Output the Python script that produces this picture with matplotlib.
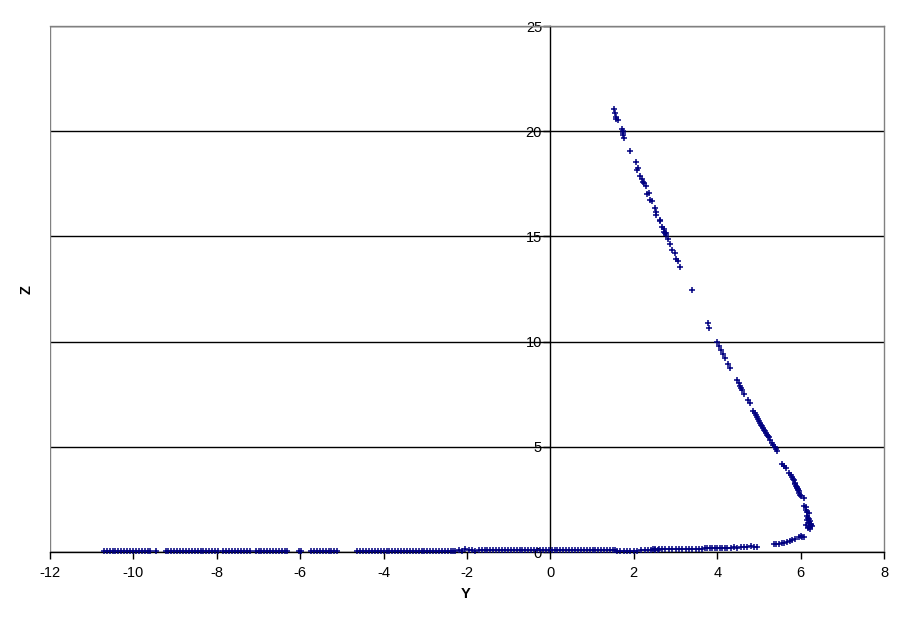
import matplotlib
matplotlib.use("Agg")
import matplotlib.pyplot as plt
from matplotlib.lines import Line2D

plt.rcParams['font.family'] = ['Liberation Sans', 'DejaVu Sans']
plt.rcParams['axes.unicode_minus'] = False

# ---- data ----
# upper branch (descending)
y_upper = [1.52, 1.54, 1.57, 1.58, 1.61, 1.71, 1.73, 1.73, 1.73, 1.76, 1.90, 2.05, 2.09, 2.08,
           2.14, 2.19, 2.21, 2.24, 2.29, 2.32, 2.36, 2.38, 2.43, 2.50, 2.53, 2.53, 2.62, 2.62,
           2.67, 2.72, 2.72, 2.74, 2.77, 2.77, 2.81, 2.88, 2.91, 2.98, 3.00, 3.05, 3.10, 3.39]
z_upper = [21.04, 20.85, 20.66, 20.60, 20.52, 20.09, 20.02, 19.90, 19.80, 19.66, 19.04, 18.52, 18.24, 18.14,
           17.86, 17.71, 17.57, 17.52, 17.38, 17.00, 17.05, 16.73, 16.68, 16.34, 16.15, 16.00, 15.77, 15.72,
           15.43, 15.34, 15.20, 15.15, 15.15, 15.05, 14.86, 14.62, 14.34, 14.20, 13.91, 13.82, 13.53, 12.44]

# middle branch
y_mid = [3.77, 3.80, 3.99, 4.04, 4.08, 4.13, 4.18, 4.25, 4.30, 4.47, 4.52, 4.54, 4.56, 4.59, 4.64,
         4.73, 4.78, 4.85, 4.90, 4.92, 4.95, 4.97, 5.00, 5.02, 5.04, 5.07, 5.09, 5.12, 5.14, 5.16,
         5.19, 5.21, 5.24, 5.26, 5.31, 5.35, 5.38, 5.40, 5.43]
z_mid = [10.87, 10.63, 9.97, 9.78, 9.59, 9.40, 9.21, 8.92, 8.73, 8.16, 8.02, 7.88, 7.78, 7.69, 7.50,
         7.21, 7.07, 6.69, 6.59, 6.50, 6.40, 6.31, 6.21, 6.12, 6.02, 5.97, 5.88, 5.78, 5.74, 5.64,
         5.55, 5.50, 5.45, 5.31, 5.17, 5.07, 4.98, 4.88, 4.79]

# lower bend
y_bend = [5.56, 5.60, 5.65, 5.72, 5.76, 5.79, 5.82, 5.85, 5.87, 5.92, 5.93, 5.95, 5.97, 5.99, 6.01,
          6.07, 5.86, 5.89, 5.91, 5.94, 6.09, 6.12, 6.16, 6.19, 6.16, 6.20, 6.23, 6.19, 6.24, 6.20,
          6.27, 6.22, 6.14, 6.17, 6.21, 6.13, 6.18, 6.25, 6.15, 6.22,
          6.00, 6.04, 6.09, 5.95, 5.87, 5.80, 5.74, 5.68, 5.61, 5.55, 5.48, 5.42, 5.36]
z_bend = [4.17, 4.09, 3.98, 3.74, 3.66, 3.56, 3.48, 3.41, 3.22, 3.08, 2.98, 2.90, 2.82, 2.72, 2.66,
          2.57, 3.30, 3.15, 3.02, 2.94, 2.19, 2.12, 1.92, 1.84, 1.71, 1.55, 1.47, 1.36, 1.27, 1.17,
          1.24, 1.08, 1.98, 1.62, 1.40, 1.30, 1.12, 1.33, 1.50, 1.20,
          0.78, 0.73, 0.71, 0.73, 0.60, 0.57, 0.54, 0.48, 0.44, 0.41, 0.38, 0.37, 0.37]

# bottom band (near Z = 0)
y_band = [-10.71, -10.64, -10.57, -10.50, -10.43, -10.36, -10.29, -10.22, -10.15, -10.08, -10.01,
          -9.94, -9.87, -9.80, -9.73, -9.66, -9.59, -9.47,
          -9.23, -9.16, -9.09, -9.02, -8.95, -8.88, -8.81, -8.74, -8.67, -8.60, -8.53, -8.46,
          -8.39, -8.32, -8.25, -8.18, -8.11, -8.04, -7.98,
          -7.84, -7.77, -7.70, -7.63, -7.56, -7.49, -7.42, -7.35, -7.28, -7.21,
          -7.07, -7.00, -6.93, -6.86, -6.79, -6.72, -6.65, -6.58, -6.51, -6.44, -6.37, -6.31,
          -6.04, -5.97,
          -5.74, -5.67, -5.60, -5.53, -5.46, -5.39, -5.32, -5.25, -5.18, -5.11,
          -4.63, -4.56, -4.49, -4.42, -4.35, -4.28, -4.21, -4.14, -4.07, -4.00, -3.93, -3.86,
          -3.79, -3.72, -3.65, -3.58, -3.51, -3.44, -3.37, -3.30, -3.23, -3.16, -3.09, -3.02,
          -2.95, -2.88, -2.81, -2.74, -2.67, -2.60, -2.53, -2.46, -2.39, -2.33,
          -2.28, -2.20, -2.12, -2.04, -1.95, -1.88, -1.80, -1.72, -1.64, -1.57,
          -1.51, -1.44, -1.37, -1.30, -1.23, -1.16, -1.09, -1.02, -0.95, -0.88, -0.81, -0.74,
          -0.67, -0.60, -0.53, -0.46, -0.39, -0.32, -0.25, -0.18, -0.11, -0.04, 0.03, 0.10,
          0.17, 0.24, 0.31, 0.38, 0.45, 0.52, 0.59, 0.66, 0.73, 0.80, 0.87, 0.94, 1.01, 1.08,
          1.15, 1.22, 1.29, 1.36, 1.43, 1.50, 1.56,
          1.60, 1.68, 1.76, 1.84, 1.92, 2.00, 2.08,
          2.18, 2.26, 2.34, 2.42, 2.50, 2.58,
          2.45, 2.52, 2.60, 2.68, 2.76, 2.84, 2.92, 3.00, 3.08, 3.16, 3.24, 3.32, 3.40, 3.48,
          3.56, 3.64,
          3.70, 3.76, 3.82, 3.88, 3.94, 4.00, 4.06, 4.12, 4.18, 4.24,
          4.32, 4.40, 4.48, 4.56, 4.64, 4.72, 4.80, 4.88, 4.95]
z_band = [0.05] * 18 + [0.05] * 19 + [0.05] * 10 + [0.05] * 12 + [0.05] * 2 + [0.06] * 10 + \
         [0.06] * 34 + \
         [0.07, 0.10, 0.06, 0.12, 0.08, 0.11, 0.07, 0.10, 0.09, 0.08] + \
         [0.08] * 45 + \
         [0.07] * 7 + [0.10] * 6 + [0.13] * 16 + [0.17] * 10 + \
         [0.21, 0.22, 0.20, 0.22, 0.23, 0.25, 0.30, 0.23, 0.22]

y_all = y_upper + y_mid + y_bend + y_band
z_all = z_upper + z_mid + z_bend + z_band

x_ticks = [-12, -10, -8, -6, -4, -2, 0, 2, 4, 6, 8]
z_ticks = [0, 5, 10, 15, 20, 25]

# ---- figure ----
fig = plt.figure(figsize=(9.11, 6.23), dpi=100)
ax = fig.add_axes([50 / 911, 1 - 552 / 623, 834 / 911, 526 / 623])

ax.plot(y_all, z_all, linestyle='none', marker='+', color='#000080',
        markersize=4, markeredgewidth=1.1, clip_on=False, zorder=3)

ax.set_xlim(-12, 8)
ax.set_ylim(0, 25)
ax.set_xticks(x_ticks)
ax.set_yticks(z_ticks)

ax.spines['left'].set_position(('data', 0))
ax.spines['left'].set_color('black')
ax.spines['bottom'].set_color('black')
ax.spines['top'].set_color('#808080')
ax.spines['right'].set_color('#808080')
for s in ax.spines.values():
    s.set_linewidth(1.0)
ax.add_line(Line2D([0, 0], [0, 1], transform=ax.transAxes, color='#808080', lw=1.0, zorder=1))

ax.yaxis.grid(True, color='black', linewidth=1.0)
ax.set_axisbelow(True)

ax.tick_params(axis='both', direction='out', length=5, width=1, color='black',
               labelsize=10.5, labelcolor='black')
ax.tick_params(axis='x', pad=5)
ax.tick_params(axis='y', pad=1)

fig.text(466 / 911, 1 - 594 / 623, 'Y', ha='center', va='center', fontsize=10.5, fontweight='bold')
fig.text(27 / 911, 1 - 290 / 623, 'Z', ha='center', va='center', fontsize=10.5, fontweight='bold',
         rotation=90)

fig.savefig('out.png', dpi=100, facecolor='white')
